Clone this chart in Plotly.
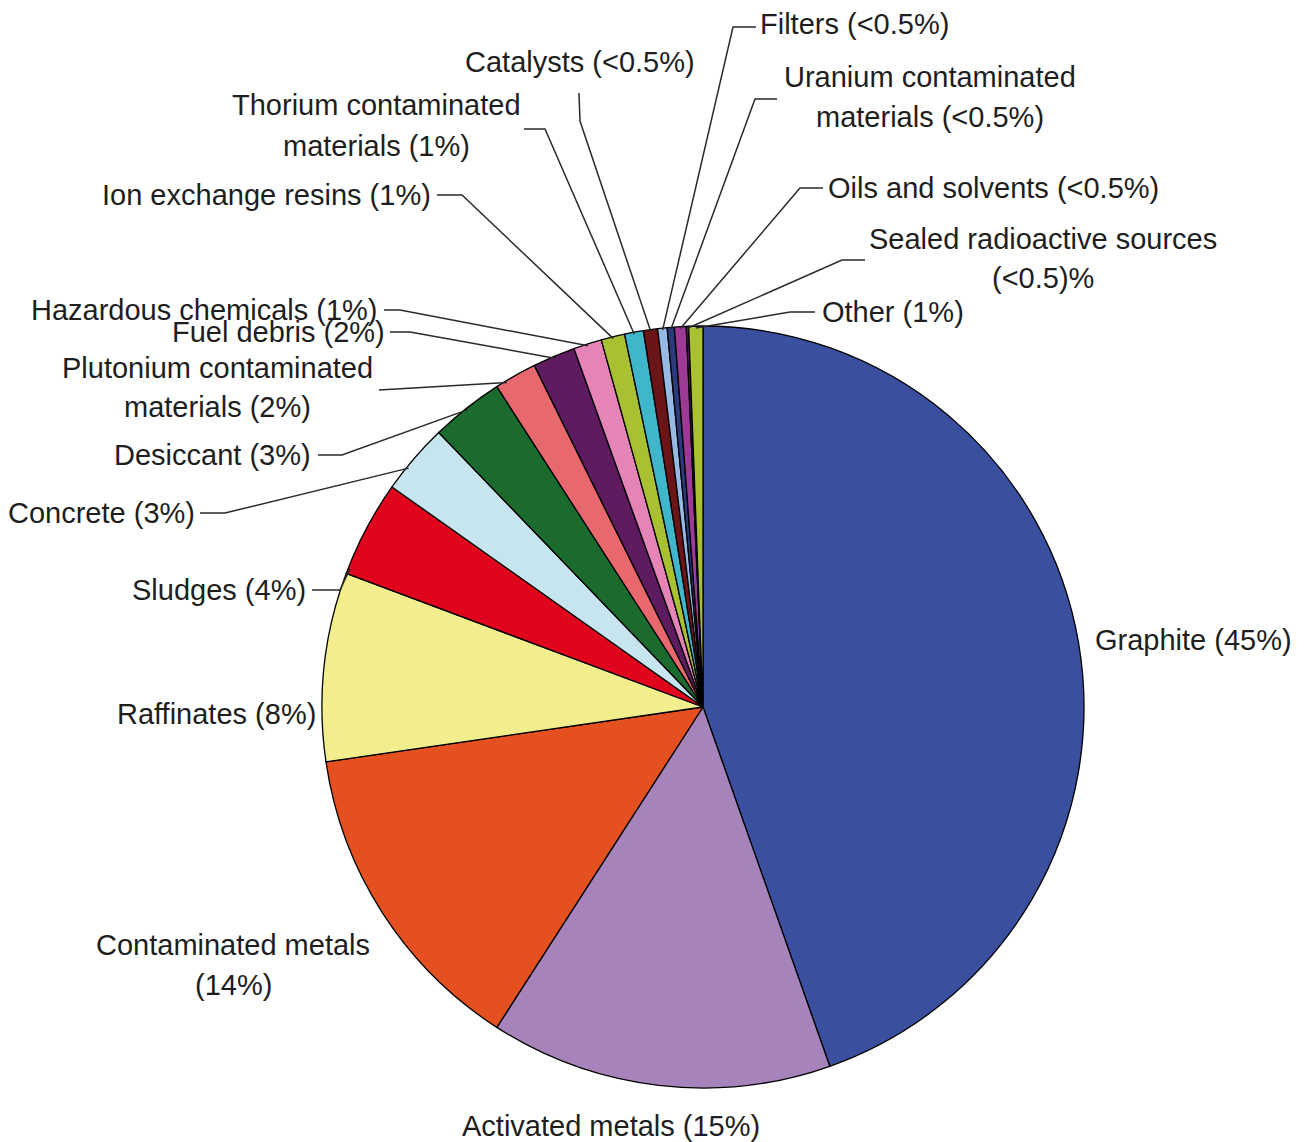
import math
import plotly.graph_objects as go

W, H = 1307, 1142

# ---------------- data ----------------
categories = [
    "Graphite", "Activated metals", "Contaminated metals", "Raffinates",
    "Sludges", "Concrete", "Desiccant", "Plutonium contaminated materials",
    "Fuel debris", "Hazardous chemicals", "Ion exchange resins",
    "Thorium contaminated materials", "Catalysts", "Filters",
    "Uranium contaminated materials", "Oils and solvents",
    "Sealed radioactive sources", "Other",
]
values = [44.6, 14.5, 13.6, 8.0, 4.1, 3.0, 3.1, 1.8, 1.8, 1.2, 1.0, 0.8,
          0.6, 0.4, 0.3, 0.5, 0.1, 0.6]
label_lines = [
    ["Graphite (45%)"],
    ["Activated metals (15%)"],
    ["Contaminated metals", "(14%)"],
    ["Raffinates (8%)"],
    ["Sludges (4%)"],
    ["Concrete (3%)"],
    ["Desiccant (3%)"],
    ["Plutonium contaminated", "materials (2%)"],
    ["Fuel debris (2%)"],
    ["Hazardous chemicals (1%)"],
    ["Ion exchange resins (1%)"],
    ["Thorium contaminated", "materials (1%)"],
    ["Catalysts (<0.5%)"],
    ["Filters (<0.5%)"],
    ["Uranium contaminated", "materials (<0.5%)"],
    ["Oils and solvents (<0.5%)"],
    ["Sealed radioactive sources", "(<0.5)%"],
    ["Other (1%)"],
]
colors = [
    "#3A4F9E", "#A783BC", "#E4501F", "#F2EE8E", "#E0051C", "#C6E5EE",
    "#1B6A2E", "#E8696D", "#5E1B60", "#E584B7", "#A9C033", "#40B6CB",
    "#6B1518", "#96BAE4", "#2B3A7A", "#9C3A95", "#5E1B60", "#A9C033",
]

# ---------------- layout (pixel) settings ----------------
CX, CY, R = 703, 707, 381
FONT = dict(family="Liberation Sans, Arial, sans-serif", size=29, color="#1e1e1e")

# label placement: (x, [y per line], xanchor, leader elbow points, fraction along slice)
placement = [
    (1093, [640], "left", None, 0.5),
    (611, [1126], "center", None, 0.5),
    (233, [945, 985], "center", None, 0.5),
    (318, [714], "right", None, 0.5),
    (308, [590], "right", [(312, 590), (340, 590)], 0.06),
    (197, [513], "right", [(200, 513), (225, 513)], 0.35),
    (313, [455], "right", [(318, 455), (342, 455)], 0.5),
    (217, [368, 407], "center", [(379, 390)], 0.25),
    (387, [332], "right", [(390, 332), (410, 332)], 0.5),
    (380, [310], "right", [(384, 310), (400, 310)], 0.5),
    (433, [195], "right", [(437, 195), (462, 195)], 0.5),
    (376, [105, 146], "center", [(524, 129), (545, 129)], 0.5),
    (580, [62], "center", [(579, 93), (580, 121)], 0.5),
    (758, [24], "left", [(756, 27), (733, 27)], 0.5),
    (930, [77, 117], "center", [(777, 99), (755, 99)], 0.5),
    (826, [188], "left", [(823, 188), (800, 188)], 0.5),
    (1043, [239, 278], "center", [(865, 260), (842, 260)], 0.5),
    (820, [312], "left", [(815, 312), (790, 312)], 0.5),
]


def px(x):
    return x / W


def py(y):
    return 1 - y / H


fig = go.Figure()
fig.add_trace(go.Pie(
    labels=categories,
    values=values,
    sort=False,
    direction="clockwise",
    rotation=0,
    marker=dict(colors=colors, line=dict(color="#000000", width=1.3)),
    textinfo="none",
    hoverinfo="label+percent",
    showlegend=False,
    domain=dict(x=[px(CX - R), px(CX + R)], y=[py(CY + R), py(CY - R)]),
))

total = sum(values)
annotations = []
shapes = []
cum = 0.0
for i, v in enumerate(values):
    x, ys, anchor, elbow, frac = placement[i]
    for line, y in zip(label_lines[i], ys):
        annotations.append(dict(
            text=line, x=px(x), y=py(y), xref="paper", yref="paper",
            xanchor=anchor, yanchor="middle", showarrow=False, font=FONT,
        ))
    if elbow:
        ang = 2 * math.pi * (cum + frac * v) / total
        ex = CX + R * 0.995 * math.sin(ang)
        ey = CY - R * 0.995 * math.cos(ang)
        pts = list(elbow) + [(ex, ey)]
        path = "M " + " L ".join(f"{px(a):.5f},{py(b):.5f}" for a, b in pts)
        shapes.append(dict(type="path", path=path, xref="paper", yref="paper",
                           line=dict(color="#2a2a2a", width=1.5)))
    cum += v

fig.update_layout(
    width=W, height=H,
    margin=dict(l=0, r=0, t=0, b=0),
    paper_bgcolor="white", plot_bgcolor="white",
    annotations=annotations,
    shapes=shapes,
)

fig.write_html("out.html")
